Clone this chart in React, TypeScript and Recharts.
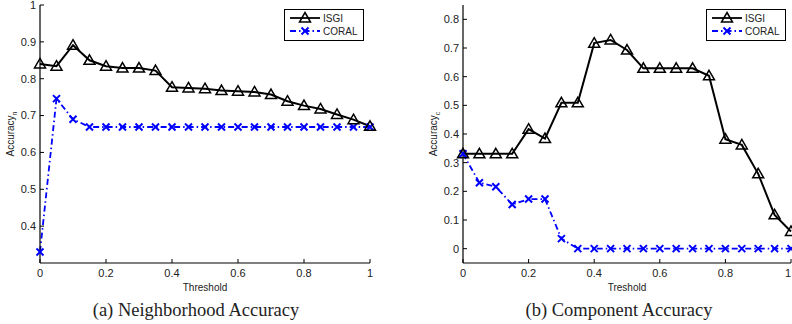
import { LineChart, Line, XAxis, YAxis } from 'recharts'

const thresholds = [0, 0.05, 0.1, 0.15, 0.2, 0.25, 0.3, 0.35, 0.4, 0.45, 0.5, 0.55, 0.6, 0.65, 0.7, 0.75, 0.8, 0.85, 0.9, 0.95, 1]

// (a) neighborhood accuracy
const isgiN = [0.84, 0.834, 0.891, 0.85, 0.834, 0.829, 0.829, 0.822, 0.777, 0.775, 0.773, 0.768, 0.766, 0.764, 0.757, 0.739, 0.727, 0.718, 0.703, 0.689, 0.671]
const coralN = [0.33, 0.746, 0.69, 0.669, 0.669, 0.669, 0.669, 0.669, 0.669, 0.669, 0.669, 0.669, 0.669, 0.669, 0.669, 0.669, 0.669, 0.669, 0.669, 0.669, 0.669]

// (b) component accuracy
const isgiC = [0.331, 0.331, 0.331, 0.331, 0.417, 0.384, 0.509, 0.509, 0.717, 0.728, 0.693, 0.629, 0.629, 0.629, 0.629, 0.603, 0.382, 0.362, 0.261, 0.118, 0.06]
const coralC = [0.331, 0.23, 0.216, 0.154, 0.173, 0.173, 0.035, 0, 0, 0, 0, 0, 0, 0, 0, 0, 0, 0, 0, 0, 0]

const xTicks = [0, 0.2, 0.4, 0.6, 0.8, 1]
const yTicksN = [0.4, 0.5, 0.6, 0.7, 0.8, 0.9, 1]
const yTicksC = [0, 0.1, 0.2, 0.3, 0.4, 0.5, 0.6, 0.7, 0.8]

const SANS = '"Liberation Sans", Arial, Helvetica, sans-serif'
const SERIF = '"Liberation Serif", "Times New Roman", serif'
const BLUE = '#0000ff'
const TICK = { fontSize: 11, fill: '#222', fontFamily: SANS }

const rowsN = thresholds.map((t, i) => ({ t, isgi: isgiN[i], coral: coralN[i] }))
const rowsC = thresholds.map((t, i) => ({ t, isgi: isgiC[i], coral: coralC[i] }))

function Triangle({ cx, cy }: any) {
  if (cx == null || cy == null) return null
  return (
    <path
      d={`M${cx},${cy - 5.5} L${cx + 5.5},${cy + 4} L${cx - 5.5},${cy + 4} Z`}
      fill="none"
      stroke="#000"
      strokeWidth={1.5}
    />
  )
}

function Cross({ cx, cy }: any) {
  if (cx == null || cy == null) return null
  const s = 3.5
  return (
    <path
      d={`M${cx - s},${cy - s} L${cx + s},${cy + s} M${cx - s},${cy + s} L${cx + s},${cy - s}`}
      stroke={BLUE}
      strokeWidth={2}
    />
  )
}

// bottom tick label; the last one is kept inside the page edge on the right panel
function XTick({ x, y, payload, endLast }: any) {
  const anchor = endLast && payload.value === 1 ? 'end' : 'middle'
  return (
    <text x={x} y={y} dy="0.71em" textAnchor={anchor} {...TICK}>
      {String(payload.value)}
    </text>
  )
}

function YLabel({ viewBox, sub }: any) {
  const cx = viewBox.x + viewBox.width - 26
  const cy = viewBox.y + viewBox.height / 2
  return (
    <text transform={`translate(${cx},${cy}) rotate(-90)`} textAnchor="middle" fontSize={10} fill="#222" fontFamily={SANS}>
      Accuracy
      <tspan fontSize={7} dy={3}>{sub}</tspan>
    </text>
  )
}

function LegendBox({ left }: { left: number }) {
  return (
    <svg style={{ position: 'absolute', left, top: 9 }} width={80} height={32}>
      <rect x={0.5} y={0.5} width={79} height={31} fill="#fff" stroke="#000" />
      <line x1={6} x2={36} y1={9} y2={9} stroke="#000" strokeWidth={1.8} />
      <Triangle cx={21} cy={9} />
      <text x={39} y={13} fontSize={10} fontFamily={SANS} fill="#222">ISGI</text>
      <line x1={6} x2={36} y1={22} y2={22} stroke={BLUE} strokeWidth={1.8} strokeDasharray="6 3 1.5 3" />
      <Cross cx={21} cy={22} />
      <text x={39} y={26} fontSize={10} fontFamily={SANS} fill="#222">CORAL</text>
    </svg>
  )
}

function Panel({ data, yDomain, yTicks, sub, xLabel, yAxisWidth, width, marginRight, endLast }: any) {
  return (
    <LineChart
      width={width}
      height={300}
      data={data}
      margin={{ top: 5, right: marginRight, left: 0, bottom: 0 }}
    >
      <XAxis
        dataKey="t"
        type="number"
        domain={[0, 1]}
        ticks={xTicks}
        interval={0}
        height={37}
        tick={<XTick endLast={endLast} />}
        tickSize={-4}
        tickMargin={10}
        stroke="#000"
        axisLine={{ stroke: '#000', strokeWidth: 1.2 }}
        label={{ value: xLabel, position: 'insideBottom', offset: 9, fontSize: 10, fill: '#222', fontFamily: SANS }}
      />
      <XAxis
        xAxisId="top"
        orientation="top"
        type="number"
        domain={[0, 1]}
        ticks={xTicks}
        interval={0}
        height={0}
        tickSize={-4}
        tickFormatter={() => ''}
        stroke="#000"
        axisLine={{ stroke: '#000', strokeWidth: 1.2 }}
      />
      <YAxis
        type="number"
        domain={yDomain}
        ticks={yTicks}
        interval={0}
        width={yAxisWidth}
        tick={TICK}
        tickSize={-4}
        tickMargin={8}
        stroke="#000"
        axisLine={{ stroke: '#000', strokeWidth: 1.2 }}
        allowDataOverflow
        label={<YLabel sub={sub} />}
      />
      <YAxis
        yAxisId="r"
        orientation="right"
        type="number"
        domain={yDomain}
        ticks={yTicks}
        interval={0}
        width={0}
        tickSize={-4}
        tickFormatter={() => ''}
        stroke="#000"
        axisLine={{ stroke: '#000', strokeWidth: 1.2 }}
        allowDataOverflow
      />
      <Line
        dataKey="coral"
        name="CORAL"
        stroke={BLUE}
        strokeWidth={1.8}
        strokeDasharray="6 3 1.5 3"
        dot={<Cross />}
        isAnimationActive={false}
      />
      <Line
        dataKey="isgi"
        name="ISGI"
        stroke="#000"
        strokeWidth={2}
        dot={<Triangle />}
        isAnimationActive={false}
      />
    </LineChart>
  )
}

export default function App() {
  return (
    <div style={{ position: 'absolute', left: 0, top: 0, width: 792, height: 324, background: '#fff', overflow: 'hidden' }}>
      <div style={{ position: 'absolute', left: 0, top: 0 }}>
        <Panel data={rowsN} yDomain={[0.3, 1]} yTicks={yTicksN} sub="n" xLabel="Threshold" yAxisWidth={40} width={400} marginRight={30} />
      </div>
      <LegendBox left={284} />
      <div style={{ position: 'absolute', left: 400, top: 0 }}>
        <Panel data={rowsC} yDomain={[-0.05, 0.85]} yTicks={yTicksC} sub="c" xLabel="Treshold" yAxisWidth={63} width={392} marginRight={1} endLast />
      </div>
      <LegendBox left={706} />
      <div style={{ position: 'absolute', left: 0, width: 392, top: 298, lineHeight: '24px', textAlign: 'center', fontFamily: SERIF, fontSize: 18.5, color: '#222' }}>
        (a) Neighborhood Accuracy
      </div>
      <div style={{ position: 'absolute', left: 420, width: 398, top: 298, lineHeight: '24px', textAlign: 'center', fontFamily: SERIF, fontSize: 18.5, color: '#222' }}>
        (b) Component Accuracy
      </div>
    </div>
  )
}
